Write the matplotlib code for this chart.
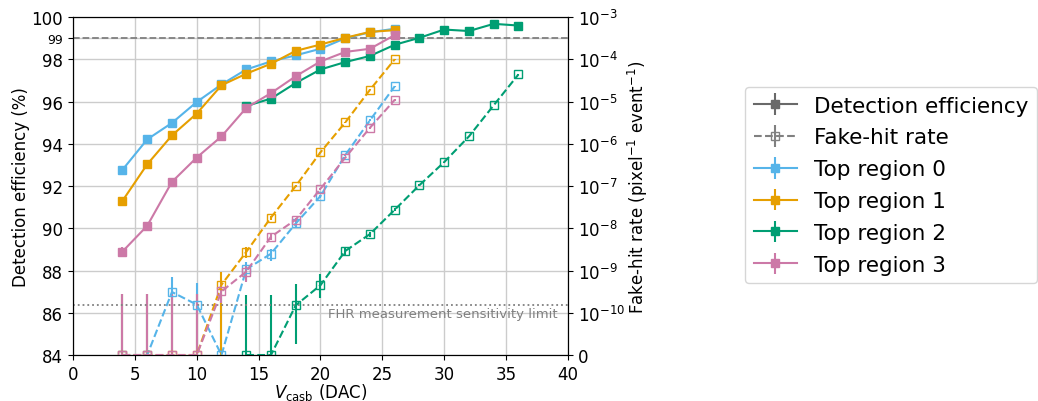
import numpy as np
import matplotlib
matplotlib.use('Agg')
import matplotlib.pyplot as plt
from matplotlib.ticker import FixedLocator, FuncFormatter, NullLocator

# Vcasb scan, detection efficiency (left) and fake-hit rate (right)
x_top = [4, 6, 8, 10, 12, 14, 16, 18, 20, 22, 24, 26]
x_r2 = [14, 16, 18, 20, 22, 24, 26, 28, 30, 32, 34, 36]

eff0 = [92.77, 94.21, 94.99, 95.98, 96.81, 97.52, 97.90, 98.19, 98.50, 99.00, 99.28, 99.45]
eff1 = [91.30, 93.03, 94.40, 95.43, 96.77, 97.32, 97.79, 98.40, 98.70, 99.02, 99.30, 99.38]
eff2 = [95.79, 96.14, 96.88, 97.52, 97.87, 98.16, 98.69, 99.02, 99.41, 99.34, 99.68, 99.60]
eff3 = [88.90, 90.12, 92.20, 93.35, 94.35, 95.70, 96.40, 97.20, 97.90, 98.35, 98.50, 99.15]
eff_err0 = [0.15, 0.10, 0.10, 0.08, 0.07, 0.06, 0.05, 0.05, 0.04, 0.04, 0.03, 0.03]
eff_err1 = [0.15, 0.10, 0.10, 0.08, 0.07, 0.06, 0.05, 0.05, 0.04, 0.04, 0.03, 0.03]
eff_err2 = [0.06, 0.06, 0.05, 0.05, 0.04, 0.04, 0.04, 0.03, 0.03, 0.03, 0.02, 0.02]
eff_err3 = [0.20, 0.15, 0.15, 0.10, 0.08, 0.07, 0.06, 0.05, 0.05, 0.04, 0.04, 0.03]

fhr0 = [0, 0, 3.1e-10, 1.56e-10, 0, 1.07e-9, 2.5e-9, 1.3e-8, 5.8e-8, 5.4e-7, 3.6e-6, 2.3e-5]
fhr1 = [0, 0, 0, 0, 4.6e-10, 2.75e-9, 1.8e-8, 1.0e-7, 6.3e-7, 3.2e-6, 1.9e-5, 1.0e-4]
fhr2 = [0, 0, 1.5e-10, 4.5e-10, 2.9e-9, 7.3e-9, 2.75e-8, 1.05e-7, 3.7e-7, 1.5e-6, 8.2e-6, 4.4e-5]
fhr3 = [0, 0, 0, 0, 3.2e-10, 9.4e-10, 6.3e-9, 1.6e-8, 8.6e-8, 4.7e-7, 2.4e-6, 1.1e-5]

fhr_lo0 = [0, 0, 3.1e-10, 1.56e-10, 0, 5e-10, 8e-10, 2e-9, 5e-9, 3e-8, 2e-7, 1e-6]
fhr_hi0 = [2.8e-10, 2.8e-10, 4e-10, 3.5e-10, 2.8e-10, 5.2e-10, 8e-10, 2e-9, 5e-9, 3e-8, 2e-7, 1e-6]
fhr_lo1 = [0, 0, 0, 0, 4.6e-10, 8e-10, 2e-9, 5e-9, 2e-8, 1e-7, 5e-7, 2e-6]
fhr_hi1 = [2.8e-10, 2.8e-10, 2.8e-10, 2.8e-10, 4.6e-10, 8e-10, 2e-9, 5e-9, 2e-8, 1e-7, 5e-7, 2e-6]
fhr_lo2 = [0, 0, 1.23e-10, 2.3e-10, 6e-10, 1e-9, 2e-9, 5e-9, 1e-8, 3e-8, 1e-7, 5e-7]
fhr_hi2 = [2.7e-10, 2.7e-10, 3.4e-10, 4e-10, 6e-10, 1e-9, 2e-9, 5e-9, 1e-8, 3e-8, 1e-7, 5e-7]
fhr_lo3 = [0, 0, 0, 0, 1.5e-10, 4e-10, 1e-9, 2e-9, 5e-9, 2e-8, 1e-7, 5e-7]
fhr_hi3 = [2.84e-10, 2.84e-10, 2.84e-10, 2.84e-10, 1.5e-10, 4e-10, 1e-9, 2e-9, 5e-9, 2e-8, 1e-7, 5e-7]

fhr_limit = 1.5e-10
labels = ['Top region 0', 'Top region 1', 'Top region 2', 'Top region 3']
colors = ['#56B4E9', '#E69F00', '#009E73', '#CC79A7']

plt.rcParams['font.size'] = 12

fig = plt.figure(figsize=(10.38, 4.02), dpi=100)
ax1 = fig.add_axes([0.0703, 0.1144, 0.4769, 0.8406])
ax2 = ax1.twinx()

series = [
    (x_top, eff0, eff_err0, fhr0, fhr_lo0, fhr_hi0),
    (x_top, eff1, eff_err1, fhr1, fhr_lo1, fhr_hi1),
    (x_r2, eff2, eff_err2, fhr2, fhr_lo2, fhr_hi2),
    (x_top, eff3, eff_err3, fhr3, fhr_lo3, fhr_hi3),
]

handles = []
for (xs, eff, eerr, fhr, flo, fhi), c, lab in zip(series, colors, labels):
    h = ax1.errorbar(xs, eff, yerr=eerr, color=c, marker='s', markersize=6,
                     linestyle='-', linewidth=1.5, label=lab)
    handles.append(h)
    ax2.errorbar(xs, fhr, yerr=[flo, fhi], color=c, marker='s', markersize=6,
                 markerfacecolor='none', linestyle='--', linewidth=1.5)

ax1.axhline(99, color='gray', linestyle='--', linewidth=1.3, zorder=1)
ax2.axhline(fhr_limit, color='gray', linestyle=':', linewidth=1.3)
ax2.text(39.2, fhr_limit * 0.9, 'FHR measurement sensitivity limit', color='gray',
         fontsize=9.5, ha='right', va='top')

ax1.set_xlim(0, 40)
ax1.set_ylim(84, 100)
ax1.set_yticks([84, 86, 88, 90, 92, 94, 96, 98, 99, 100])
for t in ax1.get_yticklabels():
    if t.get_text() == '99':
        t.set_fontsize(9)
ax1.grid(True, color='#cccccc', linewidth=1)
ax1.set_axisbelow(True)
ax1.set_xlabel(r'$V_\mathrm{casb}$ (DAC)', labelpad=-1)
ax1.set_ylabel('Detection efficiency (%)', labelpad=1)

# linscale 0.9 -> the 0..1e-10 linear part spans one decade
ax2.set_yscale('symlog', linthresh=1e-10, linscale=0.9)
ax2.set_ylim(0, 1e-3)
ax2.yaxis.set_major_locator(FixedLocator([0] + [10.0 ** -k for k in range(10, 2, -1)]))
ax2.yaxis.set_minor_locator(NullLocator())
ax2.yaxis.set_major_formatter(FuncFormatter(
    lambda v, p: '0' if v == 0 else r'$10^{%d}$' % int(round(np.log10(v)))))
ax2.set_ylabel(r'Fake-hit rate (pixel$^{-1}$ event$^{-1}$)', labelpad=1)

# legend entries
h_eff = ax1.errorbar([], [], yerr=[], color='dimgray', marker='s', markersize=6, linestyle='-')
h_fhr = ax1.errorbar([], [], yerr=[], color='gray', marker='s', markersize=6,
                     markerfacecolor='none', linestyle='--')
fig.legend([h_eff, h_fhr] + handles, ['Detection efficiency', 'Fake-hit rate'] + labels,
           loc='upper left', bbox_to_anchor=(745 / 1038, 1 - 88 / 402), fontsize=15.5,
           borderaxespad=0, labelspacing=0.55)

fig.savefig('out.png', dpi=100)
